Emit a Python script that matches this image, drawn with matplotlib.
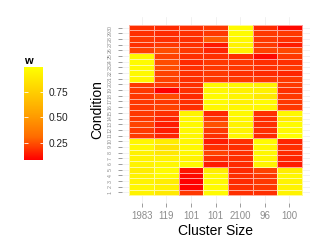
import numpy as np
import matplotlib
matplotlib.use('Agg')
import matplotlib.pyplot as plt
from matplotlib.colors import LinearSegmentedColormap

plt.rcParams['font.family'] = ['Liberation Sans', 'DejaVu Sans']

# cluster sizes (x axis) and conditions (y axis)
clusterSizes = ['1983', '119', '101', '101', '2100', '96', '100']
conditions = list(range(1, 31))

# w per cluster, condition 1 -> 30
w_1983 = [0.93, 0.95, 0.93, 0.93, 0.90, 0.93, 0.93, 0.92, 0.96, 0.95,
          0.20, 0.20, 0.22, 0.20, 0.20, 0.20, 0.20, 0.20, 0.20, 0.20,
          0.95, 0.96, 0.96, 0.97, 0.96, 0.22, 0.18, 0.20, 0.18, 0.18]
w_119 = [0.88, 0.92, 0.90, 0.97, 0.97, 0.95, 0.93, 0.87, 0.85, 0.90,
         0.16, 0.14, 0.14, 0.16, 0.18, 0.22, 0.20, 0.24, 0.08, 0.20,
         0.22, 0.22, 0.24, 0.24, 0.22, 0.24, 0.20, 0.18, 0.17, 0.17]
w_101a = [0.20, 0.09, 0.08, 0.10, 0.12, 0.96, 0.93, 0.95, 0.96, 0.95,
          0.95, 0.96, 0.96, 0.95, 0.93, 0.18, 0.18, 0.17, 0.18, 0.18,
          0.18, 0.18, 0.18, 0.17, 0.18, 0.20, 0.18, 0.18, 0.18, 0.18]
w_101b = [0.97, 0.97, 0.96, 0.96, 0.90, 0.14, 0.18, 0.22, 0.18, 0.14,
          0.18, 0.20, 0.25, 0.20, 0.16, 0.95, 0.97, 0.97, 0.95, 0.96,
          0.20, 0.20, 0.20, 0.20, 0.18, 0.16, 0.13, 0.27, 0.20, 0.20]
w_2100 = [0.18, 0.18, 0.17, 0.18, 0.17, 0.17, 0.18, 0.18, 0.18, 0.18,
          0.95, 0.93, 0.93, 0.95, 0.96, 0.95, 0.92, 0.94, 0.92, 0.95,
          0.20, 0.18, 0.20, 0.20, 0.18, 0.93, 0.93, 0.96, 0.97, 0.97]
w_96 = [0.18, 0.20, 0.20, 0.20, 0.22, 0.93, 0.95, 0.95, 0.95, 0.97,
        0.17, 0.18, 0.18, 0.17, 0.18, 0.95, 0.97, 0.88, 0.92, 0.93,
        0.20, 0.17, 0.18, 0.18, 0.10, 0.22, 0.20, 0.20, 0.20, 0.17]
w_100 = [0.93, 0.93, 0.93, 0.95, 0.90, 0.14, 0.16, 0.17, 0.18, 0.16,
         0.99, 0.96, 0.97, 0.88, 0.95, 0.20, 0.20, 0.20, 0.18, 0.20,
         0.20, 0.16, 0.20, 0.18, 0.20, 0.23, 0.14, 0.18, 0.20, 0.10]

values = np.column_stack([w_1983, w_119, w_101a, w_101b, w_2100, w_96, w_100])

# red -> yellow, roughly like ggplot's Lab gradient
heat = LinearSegmentedColormap.from_list(
    'heat', [(0, '#FF0000'), (0.25, '#FF6C00'), (0.5, '#FFA200'),
             (0.75, '#FFD100'), (1, '#FFFF00')])

W, H = 327, 245
fig = plt.figure(figsize=(W / 100, H / 100), dpi=100)

# main heatmap panel (pixel positions from the reference)
left, right, top, bottom = 121.5, 309.7, 16.7, 203.3
ax = fig.add_axes([left / W, 1 - bottom / H, (right - left) / W, (bottom - top) / H])

xEdges = np.arange(len(clusterSizes) + 1) - 0.5
yEdges = np.arange(len(conditions) + 1) + 0.5
mesh = ax.pcolormesh(xEdges, yEdges, values, cmap=heat,
                     vmin=values.min(), vmax=values.max(),
                     edgecolors=(1, 1, 1, 0.6), linewidth=0.5, zorder=2)

ax.set_xlim(-0.825, 6.825)
ax.set_ylim(-0.907, 31.907)
ax.set_xticks(range(len(clusterSizes)))
ax.set_xticklabels(clusterSizes)
ax.set_yticks(conditions)
ax.set_yticklabels([str(c) for c in conditions], rotation=90, va='center')

ax.grid(True, color='#EBEBEB', linewidth=0.5, zorder=0)
ax.set_axisbelow(True)
for s in ax.spines.values():
    s.set_visible(False)

ax.tick_params(axis='x', length=3.1, width=0.6, color='#8C8C8C', pad=2.7,
               labelsize=6.9, labelcolor='#8C8C8C')
ax.tick_params(axis='y', length=3.1, width=0.6, color='#8C8C8C', pad=3.2,
               labelsize=3.8, labelcolor='#8C8C8C')

ax.set_xlabel('Cluster Size', fontsize=10, labelpad=2)
ax.set_ylabel('Condition', fontsize=10, labelpad=2.5)

# colourbar legend
cbL, cbR, cbT, cbB = 24.3, 43.3, 67.3, 160.0
cax = fig.add_axes([cbL / W, 1 - cbB / H, (cbR - cbL) / W, (cbB - cbT) / H])
cb = fig.colorbar(mesh, cax=cax)
cb.outline.set_visible(False)
cb.set_ticks([0.25, 0.5, 0.75])
cb.set_ticklabels(['0.25', '0.50', '0.75'])
cax.tick_params(length=0, pad=4, labelsize=7.3, labelcolor='#222222')
for t in [0.25, 0.5, 0.75]:
    cax.hlines(t, 0, 0.2, color='white', linewidth=0.6, transform=cax.get_yaxis_transform())
    cax.hlines(t, 0.8, 1, color='white', linewidth=0.6, transform=cax.get_yaxis_transform())

fig.text(cbL / W, 1 - 60.5 / H, 'w', ha='left', va='center',
         fontsize=8, fontweight='bold')

fig.savefig('out.png', dpi=100)
